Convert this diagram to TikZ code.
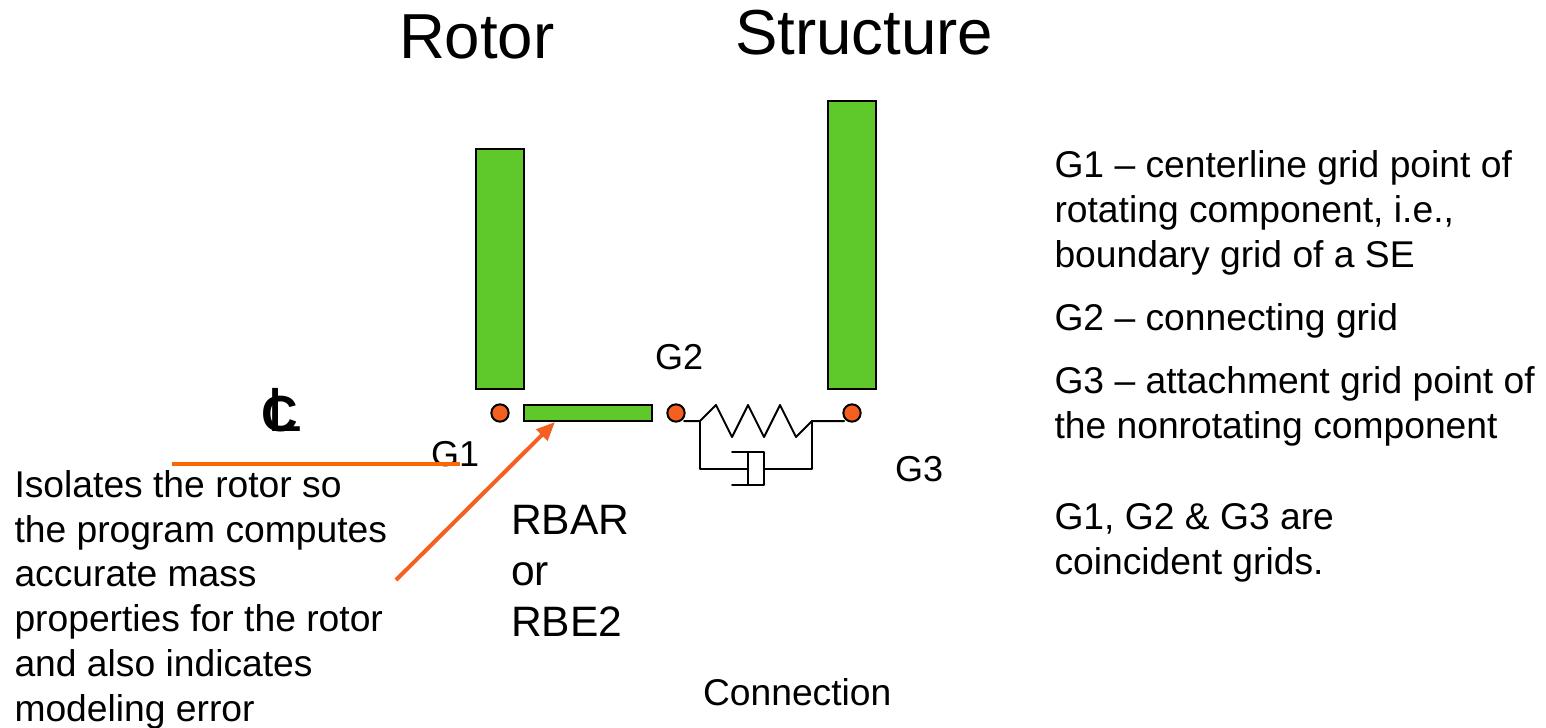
\documentclass[tikz,border=0pt]{standalone}
\usepackage{fontspec}
\setmainfont{Liberation Sans}
\usetikzlibrary{arrows.meta}
\definecolor{bargreen}{HTML}{5FC92B}
\definecolor{dotorange}{HTML}{F55F20}
\definecolor{lineorange}{HTML}{FF6600}
\newcommand{\fs}[1]{\fontsize{#1}{#1}\selectfont}
\tikzset{
  x=0.75pt,y=-0.75pt,
  bar/.style={draw=black,fill=bargreen,line width=1.5pt,inner sep=0pt,outer sep=0pt,minimum width=0pt,minimum height=0pt},
  griddot/.style={circle,draw=black,fill=dotorange,line width=1.5pt,inner sep=0pt,minimum size=13pt},
  txt/.style={anchor=base west,inner sep=0pt,outer sep=0pt,text=black},
  big/.style={txt,font=\fs{47.7}},
  body/.style={txt,font=\fs{27.93}},
  mech/.style={draw=black,line width=1.5pt,line join=round,line cap=round},
}
\begin{document}
\begin{tikzpicture}
\useasboundingbox (0,0) rectangle (1546,728);
\fill[white] (0,0) rectangle (1546,728);
% titles
\node[big] (trotor) at (399,58.5) {Rotor};
\node[big] (tstruct) at (735,54.5) {Structure};
% bars
\node[bar,minimum width=36pt,minimum height=180pt,anchor=north west] (rotorbar) at (476,149) {};
\node[bar,minimum width=36pt,minimum height=216pt,anchor=north west] (structbar) at (828,101) {};
\node[bar,minimum width=96pt,minimum height=12pt,anchor=north west] (rbar) at (524,405) {};
% grid dots
\node[griddot] (g1) at (500,413) {};
\node[griddot] (g2) at (676,413) {};
\node[griddot] (g3) at (852,413) {};
% spring and damper
\coordinate (ss) at (684,421);
\coordinate (se) at (844,421);
\coordinate (sl) at (700,421);
\coordinate (sr) at (812,421);
\coordinate (dl) at (748,469);
\coordinate (dr) at (764,469);
\draw[mech] (ss) -- (sl) -- (716,405) -- (732,437) -- (748,405) -- (764,437) -- (780,405) -- (796,437) -- (sr) -- (se);
\draw[mech] (sl) |- (dl);
\draw[mech] (732,452) -- (764,452) -- (764,485) -- (732,485);
\draw[mech] (748,452) -- (748,485);
\draw[mech] (dr) -| (sr);
% labels
\node[txt,font=\fs{27}] (lg1) at (431,466.5) {G1};
\node[txt,font=\fs{27}] (lg2) at (655,369) {G2};
\node[txt,font=\fs{27}] (lg3) at (895,481) {G3};
% centerline symbol
\node[txt,font=\fs{38}\bfseries] (cc) at (261,431) {C};
\node[txt,font=\fs{47}] (cl) at (267,431.5) {L};
% orange lines
\coordinate (ca) at (172,464);
\coordinate (cb) at (460,464);
\draw[lineorange,line width=2.3pt] (ca) -- (cb);
\coordinate (af) at (396,580);
\coordinate (at) at (555,422);
\draw[dotorange,line width=3pt,-{Triangle[length=14pt,width=11.5pt]}] (af) -- (at);
% left note
\node[body] (n1) at (14.5,497) {Isolates the rotor so};
\node[body] (n2) at (14.5,542) {the program computes};
\node[body] (n3) at (14.5,586) {accurate mass};
\node[body] (n4) at (14.5,631) {properties for the rotor};
\node[body] (n5) at (14.5,676) {and also indicates};
\node[body] (n6) at (14.5,721) {modeling error};
% RBAR
\node[txt,font=\fs{31.9}] (r1) at (511,534) {RBAR};
\node[txt,font=\fs{31.9}] (r2) at (511,585) {or};
\node[txt,font=\fs{31.9}] (r3) at (511,636) {RBE2};
\node[body] (conn) at (703,705) {Connection};
% right notes
\node[body] (a1) at (1054.5,177) {G1 – centerline grid point of};
\node[body] (a2) at (1054.5,222) {rotating component, i.e.,};
\node[body] (a3) at (1054.5,267) {boundary grid of a SE};
\node[body] (b1) at (1054.5,330) {G2 – connecting grid};
\node[body] (c1) at (1054.5,393) {G3 – attachment grid point of};
\node[body] (c2) at (1054.5,438) {the nonrotating component};
\node[body] (d1) at (1054.5,529) {G1, G2 \& G3 are};
\node[body] (d2) at (1054.5,574) {coincident grids.};
\end{tikzpicture}
\end{document}
